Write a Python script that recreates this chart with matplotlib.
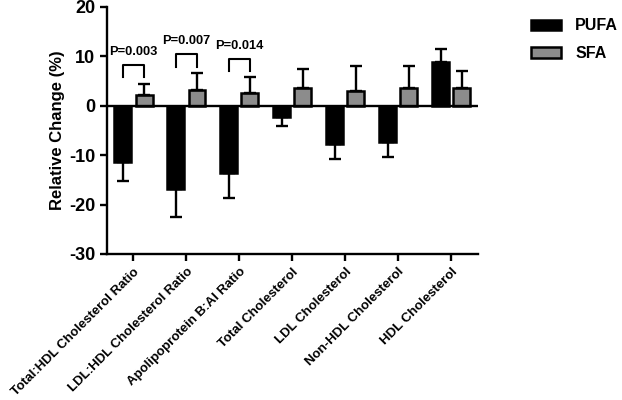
import numpy as np
import matplotlib
matplotlib.use("Agg")
import matplotlib.pyplot as plt

plt.rcParams['font.family'] = ['Liberation Sans', 'DejaVu Sans']
plt.rcParams['font.weight'] = 'bold'
plt.rcParams['axes.unicode_minus'] = False

# values
categories = ["Total:HDL Cholesterol Ratio", "LDL:HDL Cholesterol Ratio",
              "Apolipoprotein B:AI Ratio", "Total Cholesterol",
              "LDL Cholesterol", "Non-HDL Cholesterol", "HDL Cholesterol"]
pufa = [-11.4, -16.9, -13.7, -2.2, -7.8, -7.3, 8.8]
pufa_err = [3.9, 5.6, 4.9, 1.9, 3.0, 3.0, 2.7]
sfa = [2.2, 3.1, 2.6, 3.5, 2.9, 3.5, 3.5]
sfa_err = [2.2, 3.6, 3.2, 4.0, 5.2, 4.5, 3.5]

# significance brackets: group index, bracket top, leg bottom, label, label height
p_groups = [0, 1, 2]
p_top = [8.3, 10.5, 9.5]
p_leg = [5.8, 7.8, 7.0]
p_labels = ["P=0.003", "P=0.007", "P=0.014"]
p_text_y = [10.8, 13.1, 12.1]

fig = plt.figure(figsize=(6.22, 4.0), dpi=100)
ax = fig.add_axes([0.172, 0.365, 0.596, 0.618])

x = np.arange(len(categories))
w = 0.32
off = 0.2


def one_sided(vals, errs):
    lo = [e if v < 0 else 0 for v, e in zip(vals, errs)]
    hi = [e if v >= 0 else 0 for v, e in zip(vals, errs)]
    return [lo, hi]


ekw = dict(elinewidth=1.7, capsize=4, capthick=1.7, ecolor='black')
ax.bar(x - off, pufa, w, color='black', edgecolor='black', linewidth=1.8,
       yerr=one_sided(pufa, pufa_err), error_kw=ekw, label='PUFA', zorder=2)
ax.bar(x + off, sfa, w, color='#8c8c8c', edgecolor='black', linewidth=1.8,
       yerr=one_sided(sfa, sfa_err), error_kw=ekw, label='SFA', zorder=2)

ax.axhline(0, color='black', linewidth=1.7, zorder=3)

for g, top, leg, lab, ty in zip(p_groups, p_top, p_leg, p_labels, p_text_y):
    ax.plot([g - off, g - off, g + off, g + off], [leg, top, top, leg],
            color='black', linewidth=1.5)
    ax.text(g, ty, lab, ha='center', va='center', fontsize=9.3, fontweight='bold')

ax.set_xlim(-0.5, len(categories) - 0.5)
ax.set_ylim(-30, 20)
ax.set_yticks([-30, -20, -10, 0, 10, 20])
ax.set_xticks(x)
ax.set_xticklabels(categories, rotation=45, ha='right', rotation_mode='anchor',
                   fontsize=9.5, fontweight='bold')
ax.tick_params(axis='y', labelsize=13, width=1.7, length=5)
ax.tick_params(axis='x', width=1.7, length=5)
for lab in ax.get_yticklabels():
    lab.set_fontweight('bold')
ax.set_ylabel('Relative Change (%)', fontsize=12, fontweight='bold', labelpad=3)

for s in ['top', 'right']:
    ax.spines[s].set_visible(False)
for s in ['left', 'bottom']:
    ax.spines[s].set_linewidth(1.7)

fig.legend(loc='upper left', bbox_to_anchor=(0.83, 0.99), frameon=False,
           handlelength=1.9, handleheight=0.6, handletextpad=0.9,
           prop={'weight': 'bold', 'size': 11.5}, labelspacing=0.8)

fig.savefig('out.png', dpi=100)
